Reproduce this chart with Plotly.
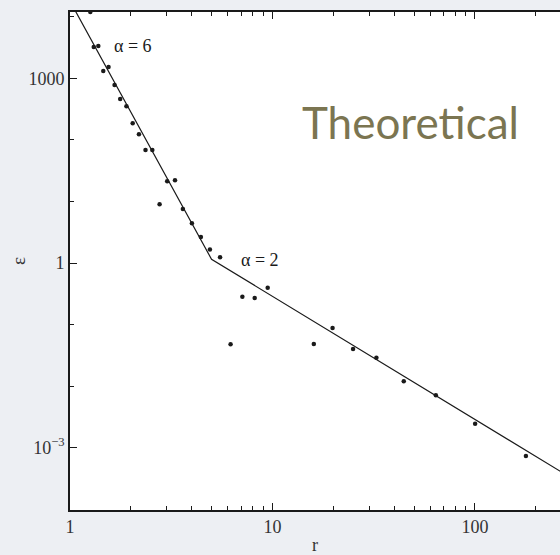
import numpy as np
import plotly.graph_objects as go

# Measured energy values versus distance
r_data = [1.26, 1.31, 1.38, 1.46, 1.55, 1.66, 1.77, 1.90, 2.04, 2.19, 2.36, 2.55,
          2.77, 3.02, 3.30, 3.61, 4.00, 4.43, 4.91, 5.51, 6.21, 7.10, 8.17, 9.47,
          16.0, 19.8, 25.0, 32.6, 44.5, 64.1, 100.2, 178.5]
eps_data = [12000, 3230, 3360, 1316, 1528, 780, 462, 352, 186, 123, 68.5, 68.5,
            9.0, 21.2, 22.1, 7.54, 4.42, 2.64, 1.66, 1.24, 0.0478, 0.283, 0.270, 0.397,
            0.0483, 0.0879, 0.0401, 0.0289, 0.01196, 0.0071, 0.00245, 0.00073]

# Theoretical broken power law: alpha = 6 below the break, alpha = 2 above
r_break = 5.0
eps_break = 1.15
alpha_inner = 6
alpha_outer = 2
r_line = np.array([1.0, r_break, 300.0])
eps_line = np.where(r_line <= r_break,
                    eps_break * (r_line / r_break) ** (-alpha_inner),
                    eps_break * (r_line / r_break) ** (-alpha_outer))

x_major = [1, 10, 100]
x_minor = [2, 3, 4, 5, 6, 7, 8, 9, 20, 30, 40, 50, 60, 70, 80, 90, 200]
y_major = [1e-3, 1, 1000]
y_major_text = ["10<sup>\u22123</sup>", "1", "1000"]
y_minor = [1e-4, 1e-2, 1e-1, 10, 100, 1e4]

serif = "Liberation Serif, Times New Roman, serif"
ink = "#1a1a1a"

fig = go.Figure()
fig.add_trace(go.Scatter(x=r_line, y=eps_line, mode="lines",
                         line=dict(color=ink, width=1.2), hoverinfo="skip",
                         showlegend=False))
fig.add_trace(go.Scatter(x=r_data, y=eps_data, mode="markers",
                         marker=dict(color=ink, size=4.5), showlegend=False))

fig.add_annotation(x=np.log10(1.61), y=np.log10(3356), xref="x", yref="y",
                   text="\u03b1 = 6", showarrow=False, xanchor="left",
                   font=dict(family=serif, size=18, color=ink))
fig.add_annotation(x=np.log10(6.83), y=np.log10(1.12), xref="x", yref="y",
                   text="\u03b1 = 2", showarrow=False, xanchor="left",
                   font=dict(family=serif, size=18, color=ink))
fig.add_annotation(x=0.469, y=0.779, xref="paper", yref="paper",
                   text="Theoretical", showarrow=False, xanchor="left",
                   yanchor="middle",
                   font=dict(family="Lato, Open Sans, sans-serif", size=44,
                             color="#7b7551"))
# y-axis title, rotated, placed in the left margin
fig.add_annotation(x=-0.106, y=0.5, xref="paper", yref="paper",
                   text="\u03b5", showarrow=False, textangle=-90,
                   xanchor="center", yanchor="middle",
                   font=dict(family=serif, size=19, color="#333"))

fig.update_xaxes(type="log", range=[0, 2.42],
                 tickmode="array", tickvals=x_major,
                 ticktext=[str(v) for v in x_major],
                 ticks="inside", ticklen=7, tickwidth=1.2, tickcolor=ink,
                 minor=dict(tickmode="array", tickvals=x_minor, ticks="inside",
                            ticklen=4, tickwidth=1.2, tickcolor=ink),
                 showline=True, linecolor=ink, linewidth=1.6, mirror="allticks",
                 showgrid=False, zeroline=False,
                 tickfont=dict(family=serif, size=18, color="#333"),
                 title=dict(text="r", font=dict(family=serif, size=18, color="#333"),
                            standoff=6))
fig.update_yaxes(type="log", range=[-4.013, 4.078],
                 tickmode="array", tickvals=y_major, ticktext=y_major_text,
                 ticks="inside", ticklen=7, tickwidth=1.2, tickcolor=ink,
                 minor=dict(tickmode="array", tickvals=y_minor, ticks="inside",
                            ticklen=4, tickwidth=1.2, tickcolor=ink),
                 showline=True, linecolor=ink, linewidth=1.6, mirror=False,
                 showgrid=False, zeroline=False,
                 tickfont=dict(family=serif, size=18, color="#333"))

fig.update_layout(width=560, height=555,
                  margin=dict(l=70, r=0, t=12, b=45),
                  paper_bgcolor="#edeff3", plot_bgcolor="white")

fig.write_html("out.html")
